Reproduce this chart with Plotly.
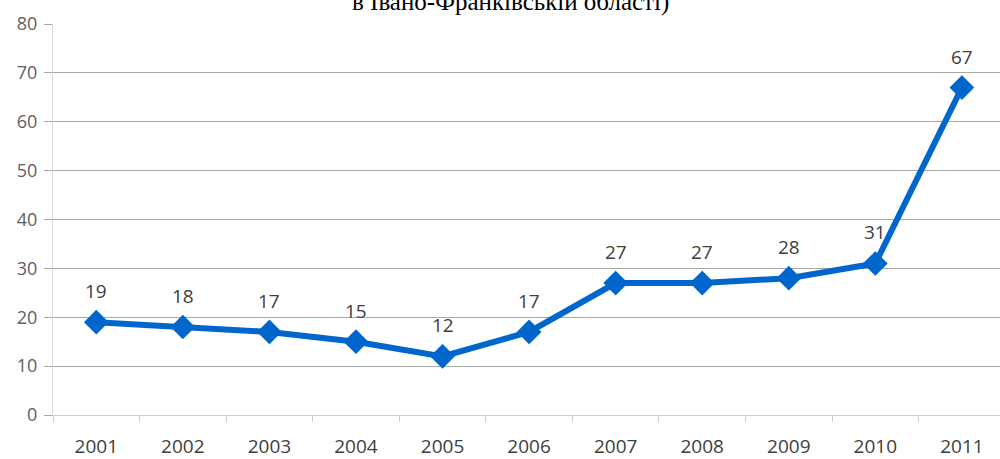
import plotly.graph_objects as go

years = ["2001", "2002", "2003", "2004", "2005", "2006", "2007", "2008", "2009", "2010", "2011"]
values = [19, 18, 17, 15, 12, 17, 27, 27, 28, 31, 67]
y_ticks = [0, 10, 20, 30, 40, 50, 60, 70, 80]
title_text = "в Івано-Франківській області)"

fig = go.Figure()
fig.add_trace(go.Scatter(
    x=years, y=values,
    mode="lines+markers",
    line=dict(color="#0066cc", width=6),
    marker=dict(symbol="diamond", size=19, color="#0066cc"),
    cliponaxis=False,
    showlegend=False,
))

annotations = [dict(
    x=i, y=v, text=str(v), xref="x", yref="y", showarrow=False,
    yshift=31, font=dict(family="Open Sans", size=19, color="#404040"),
) for i, v in enumerate(values)]

annotations.append(dict(
    text=title_text, xref="paper", yref="paper", x=0.4826, y=1,
    xanchor="center", yanchor="bottom", yshift=6, showarrow=False,
    font=dict(family="Liberation Serif", size=25, color="black"),
))

fig.update_layout(
    width=1000, height=459,
    margin=dict(l=53, r=0, t=24, b=44, autoexpand=False),
    paper_bgcolor="white", plot_bgcolor="white",
    xaxis=dict(
        type="category",
        range=[-0.5, 10.44],
        automargin=False,
        showgrid=False,
        showline=True, linecolor="#d0d0d0", linewidth=1,
        ticks="outside", tickson="boundaries", ticklen=6, tickcolor="#d0d0d0",
        tickfont=dict(family="Open Sans", size=19, color="#404040"),
        ticklabelstandoff=14,
    ),
    yaxis=dict(
        range=[0, 80],
        automargin=False,
        tickvals=y_ticks,
        showgrid=True, gridcolor="#a8a8a8", gridwidth=1,
        showline=True, linecolor="#d8d8d8", linewidth=1,
        ticks="outside", ticklen=8, tickcolor="#a8a8a8",
        tickfont=dict(family="Open Sans", size=18, color="#606060"),
        ticklabelstandoff=3,
        zeroline=False,
    ),
    annotations=annotations,
)

fig.write_html("out.html", config={"displayModeBar": False},
               post_script="document.body.style.margin='0';")
